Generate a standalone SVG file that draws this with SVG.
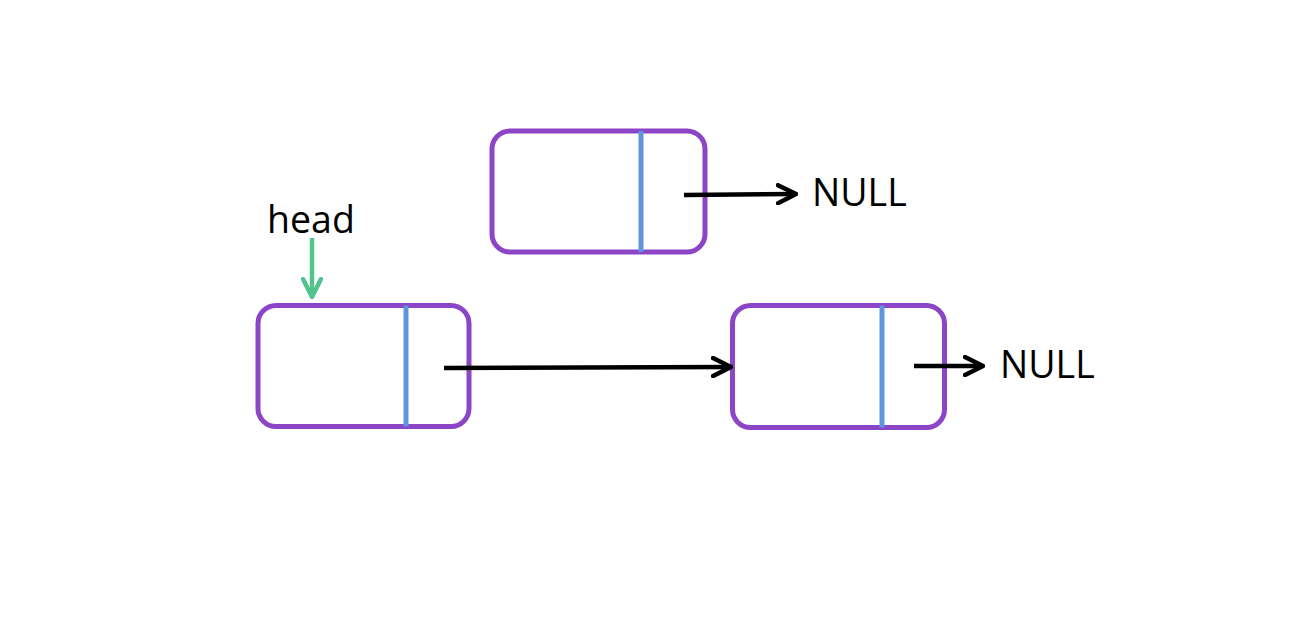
<svg xmlns="http://www.w3.org/2000/svg" width="1290" height="620" viewBox="0 0 1290 620">
<style>
.box{fill:#fff;stroke:#8B45C6;stroke-width:5}
.div{stroke:#5E94E0;stroke-width:5}
.lnk{stroke:#000;stroke-width:4.5;fill:none}
.lbl{font-family:"Open Sans","Noto Sans",sans-serif;font-size:37.5px;fill:#000}
</style>
<defs>
<marker id="ah" viewBox="0 0 10 10" refX="9" refY="5" markerWidth="5" markerHeight="5" markerUnits="strokeWidth" orient="auto">
<path d="M1,1 L9,5 L1,9" fill="none" stroke="#000" stroke-width="2" stroke-linecap="round" stroke-linejoin="round"/>
</marker>
<marker id="ahg" viewBox="0 0 10 10" refX="9" refY="5" markerWidth="5" markerHeight="5" markerUnits="strokeWidth" orient="auto">
<path d="M1,1 L9,5 L1,9" fill="none" stroke="#52C48C" stroke-width="2" stroke-linecap="round" stroke-linejoin="round"/>
</marker>
</defs>
<rect width="1290" height="620" fill="#fff"/>
<g id="node1">
<rect class="box" x="258" y="305.5" width="211" height="121" rx="18"/>
<line class="div" x1="406" y1="305.5" x2="406" y2="426.5"/>
</g>
<g id="node2">
<rect class="box" x="492" y="131" width="213" height="121" rx="18"/>
<line class="div" x1="641" y1="131" x2="641" y2="252"/>
</g>
<g id="node3">
<rect class="box" x="732.5" y="305.5" width="212" height="122" rx="18"/>
<line class="div" x1="882" y1="305.5" x2="882" y2="427.5"/>
</g>
<g id="labels">
<text class="lbl" x="267" y="233">head</text>
<text class="lbl" x="812" y="206">NULL</text>
<text class="lbl" x="1000" y="378">NULL</text>
</g>
<g id="connectors">
<line class="lnk" x1="444" y1="368" x2="731" y2="367" marker-end="url(#ah)"/>
<line class="lnk" x1="684" y1="195" x2="796" y2="194" marker-end="url(#ah)"/>
<line class="lnk" x1="914" y1="366" x2="983" y2="366" marker-end="url(#ah)"/>
<line x1="312" y1="238" x2="312" y2="297" stroke="#52C48C" stroke-width="4.5" marker-end="url(#ahg)"/>
</g>
</svg>
